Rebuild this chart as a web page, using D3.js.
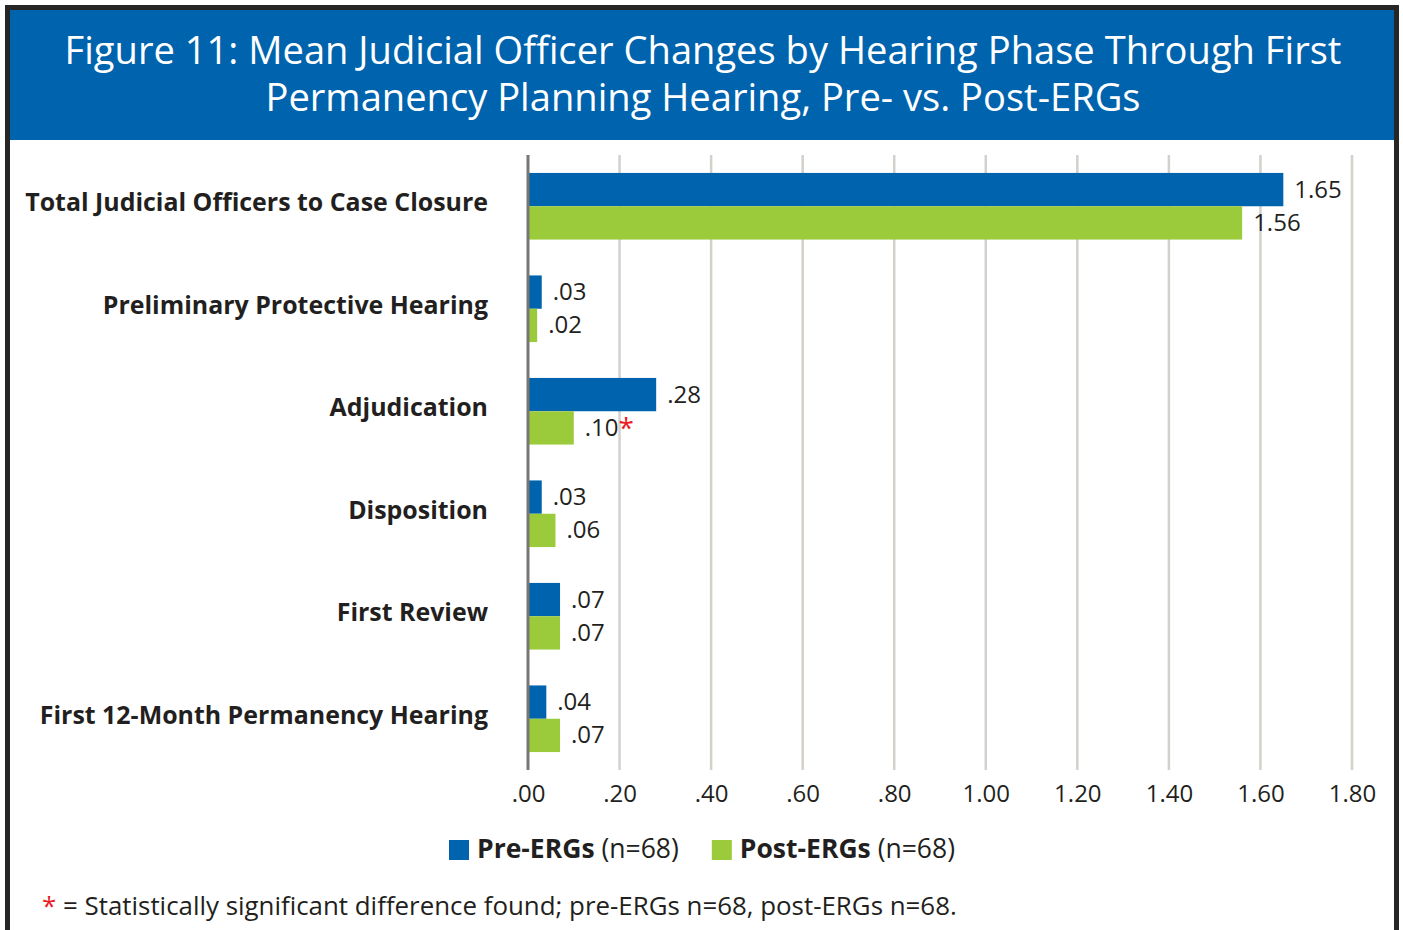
<!DOCTYPE html>
<html>
<head>
<meta charset="utf-8">
<script src="https://cdn.jsdelivr.net/npm/d3@7"></script>
<style>
  body { margin: 0; background: #fff; }
  text { font-family: "Open Sans", "Noto Sans", sans-serif; }
</style>
</head>
<body>
<div id="chart"></div>
<script>
// chart data
const titleLines = [
  "Figure 11: Mean Judicial Officer Changes by Hearing Phase Through First",
  "Permanency Planning Hearing, Pre- vs. Post-ERGs"
];
const categories = [
  "Total Judicial Officers to Case Closure",
  "Preliminary Protective Hearing",
  "Adjudication",
  "Disposition",
  "First Review",
  "First 12-Month Permanency Hearing"
];
const preValues = [1.65, 0.03, 0.28, 0.03, 0.07, 0.04];
const postValues = [1.56, 0.02, 0.10, 0.06, 0.07, 0.07];
const postSignificant = [false, false, true, false, false, false];
const seriesNames = ["Pre-ERGs", "Post-ERGs"];
const seriesN = ["(n=68)", "(n=68)"];
const tickValues = [0, 0.2, 0.4, 0.6, 0.8, 1.0, 1.2, 1.4, 1.6, 1.8];
const footnote = "= Statistically significant difference found; pre-ERGs n=68, post-ERGs n=68.";

const BLUE = "#0063ad", GREEN = "#9bcb3b", INK = "#231f20";
const width = 1403, height = 930;

// strip the leading zero like the original (.03, 1.65)
const fmt = (v) => d3.format(".2f")(v).replace(/^0\./, ".");

// scale font-size so a text node spans the wanted width
function fitWidth(sel, target) {
  const w = sel.node().getBBox().width;
  const fs = parseFloat(sel.attr("font-size"));
  const nfs = fs * target / w;
  sel.attr("font-size", nfs);
  return nfs;
}

const svg = d3
  .select("#chart")
  .append("svg")
  .attr("width", width)
  .attr("height", height);

// frame + title banner
svg.append("rect")
  .attr("x", 7.5).attr("y", 7.5)
  .attr("width", 1389).attr("height", 960)
  .attr("fill", "#fff")
  .attr("stroke", "#262626")
  .attr("stroke-width", 5);

svg.append("rect")
  .attr("x", 10).attr("y", 10)
  .attr("width", 1384).attr("height", 130)
  .attr("fill", BLUE);

const titles = svg.selectAll(".title")
  .data(titleLines)
  .join("text")
  .attr("class", "title")
  .attr("x", 703)
  .attr("y", (d, i) => 64 + i * 47)
  .attr("text-anchor", "middle")
  .attr("fill", "#fff")
  .attr("font-size", 40)
  .text((d) => d);
const titleSize = fitWidth(titles.filter((d, i) => i === 0), 1277);
titles.attr("font-size", titleSize);

// scales
const x = d3.scaleLinear().domain([0, 1.8]).range([528, 1352]);
const y = d3.scaleBand()
  .domain(categories)
  .range([155, 770])
  .paddingInner(0.35)
  .paddingOuter(0.175);
const ySub = d3.scaleBand()
  .domain(seriesNames)
  .range([0, y.bandwidth()]);

// gridlines
svg.append("g")
  .selectAll("line")
  .data(tickValues.slice(1))
  .join("line")
  .attr("x1", (d) => x(d)).attr("x2", (d) => x(d))
  .attr("y1", 155).attr("y2", 770)
  .attr("stroke", "#d4d0cc")
  .attr("stroke-width", 2.5);

// x axis tick labels
const xAxis = svg.append("g")
  .attr("transform", "translate(0, 770)")
  .call(d3.axisBottom(x).tickValues(tickValues).tickFormat(fmt).tickSize(0).tickPadding(15));
xAxis.select(".domain").remove();
xAxis.selectAll("text")
  .attr("font-size", 24)
  .attr("fill", INK)
  .style("font-family", "\"Open Sans\", sans-serif");

// category labels
const yAxis = svg.append("g")
  .attr("transform", "translate(488, -3)")
  .call(d3.axisLeft(y).tickSize(0).tickPadding(0));
yAxis.select(".domain").remove();
const catText = yAxis.selectAll("text")
  .attr("font-size", 24)
  .attr("font-weight", "bold")
  .attr("fill", INK)
  .style("font-family", "\"Open Sans\", sans-serif");
const catSize = fitWidth(catText.filter((d) => d === categories[0]), 463);
catText.attr("font-size", catSize);

// bars
const rows = categories.map((c, i) => [
  { cat: c, series: seriesNames[0], value: preValues[i], sig: false, color: BLUE },
  { cat: c, series: seriesNames[1], value: postValues[i], sig: postSignificant[i], color: GREEN }
]).flat();

svg.append("g")
  .selectAll("rect")
  .data(rows)
  .join("rect")
  .attr("x", x(0))
  .attr("y", (d) => y(d.cat) + ySub(d.series))
  .attr("width", (d) => x(d.value) - x(0))
  .attr("height", ySub.bandwidth())
  .attr("fill", (d) => d.color);

// value labels
const labels = svg.append("g")
  .selectAll("text")
  .data(rows)
  .join("text")
  .attr("x", (d) => x(d.value) + 11)
  .attr("y", (d) => y(d.cat) + ySub(d.series) + ySub.bandwidth() / 2 + 8)
  .attr("font-size", 24)
  .attr("fill", INK);
labels.append("tspan").text((d) => fmt(d.value));
labels.filter((d) => d.sig)
  .append("tspan")
  .attr("fill", "#ed1c24")
  .attr("font-size", 28)
  .attr("dy", 2)
  .text("*");

// zero axis line
svg.append("line")
  .attr("x1", x(0)).attr("x2", x(0))
  .attr("y1", 155).attr("y2", 770)
  .attr("stroke", "#7a7672")
  .attr("stroke-width", 3);

// legend
const legend = svg.append("g");
let lx = 0;
seriesNames.forEach((name, i) => {
  legend.append("rect")
    .attr("x", lx).attr("y", 840)
    .attr("width", 20).attr("height", 20)
    .attr("fill", i === 0 ? BLUE : GREEN);
  const t = legend.append("text")
    .attr("x", lx + 28).attr("y", 858)
    .attr("font-size", 26.5)
    .attr("fill", INK);
  t.append("tspan").attr("font-weight", "bold").text(name);
  t.append("tspan").text(" " + seriesN[i]);
  lx += 28 + t.node().getBBox().width + 33;
});
const lw = legend.node().getBBox().width;
legend.attr("transform", `translate(${702 - lw / 2}, 0)`);

// footnote
const note = svg.append("text")
  .attr("x", 42).attr("y", 915)
  .attr("font-size", 24)
  .attr("fill", INK);
note.append("tspan").attr("fill", "#ed1c24").text("*");
note.append("tspan").text(" " + footnote);
fitWidth(note, 915);
</script>
</body>
</html>
